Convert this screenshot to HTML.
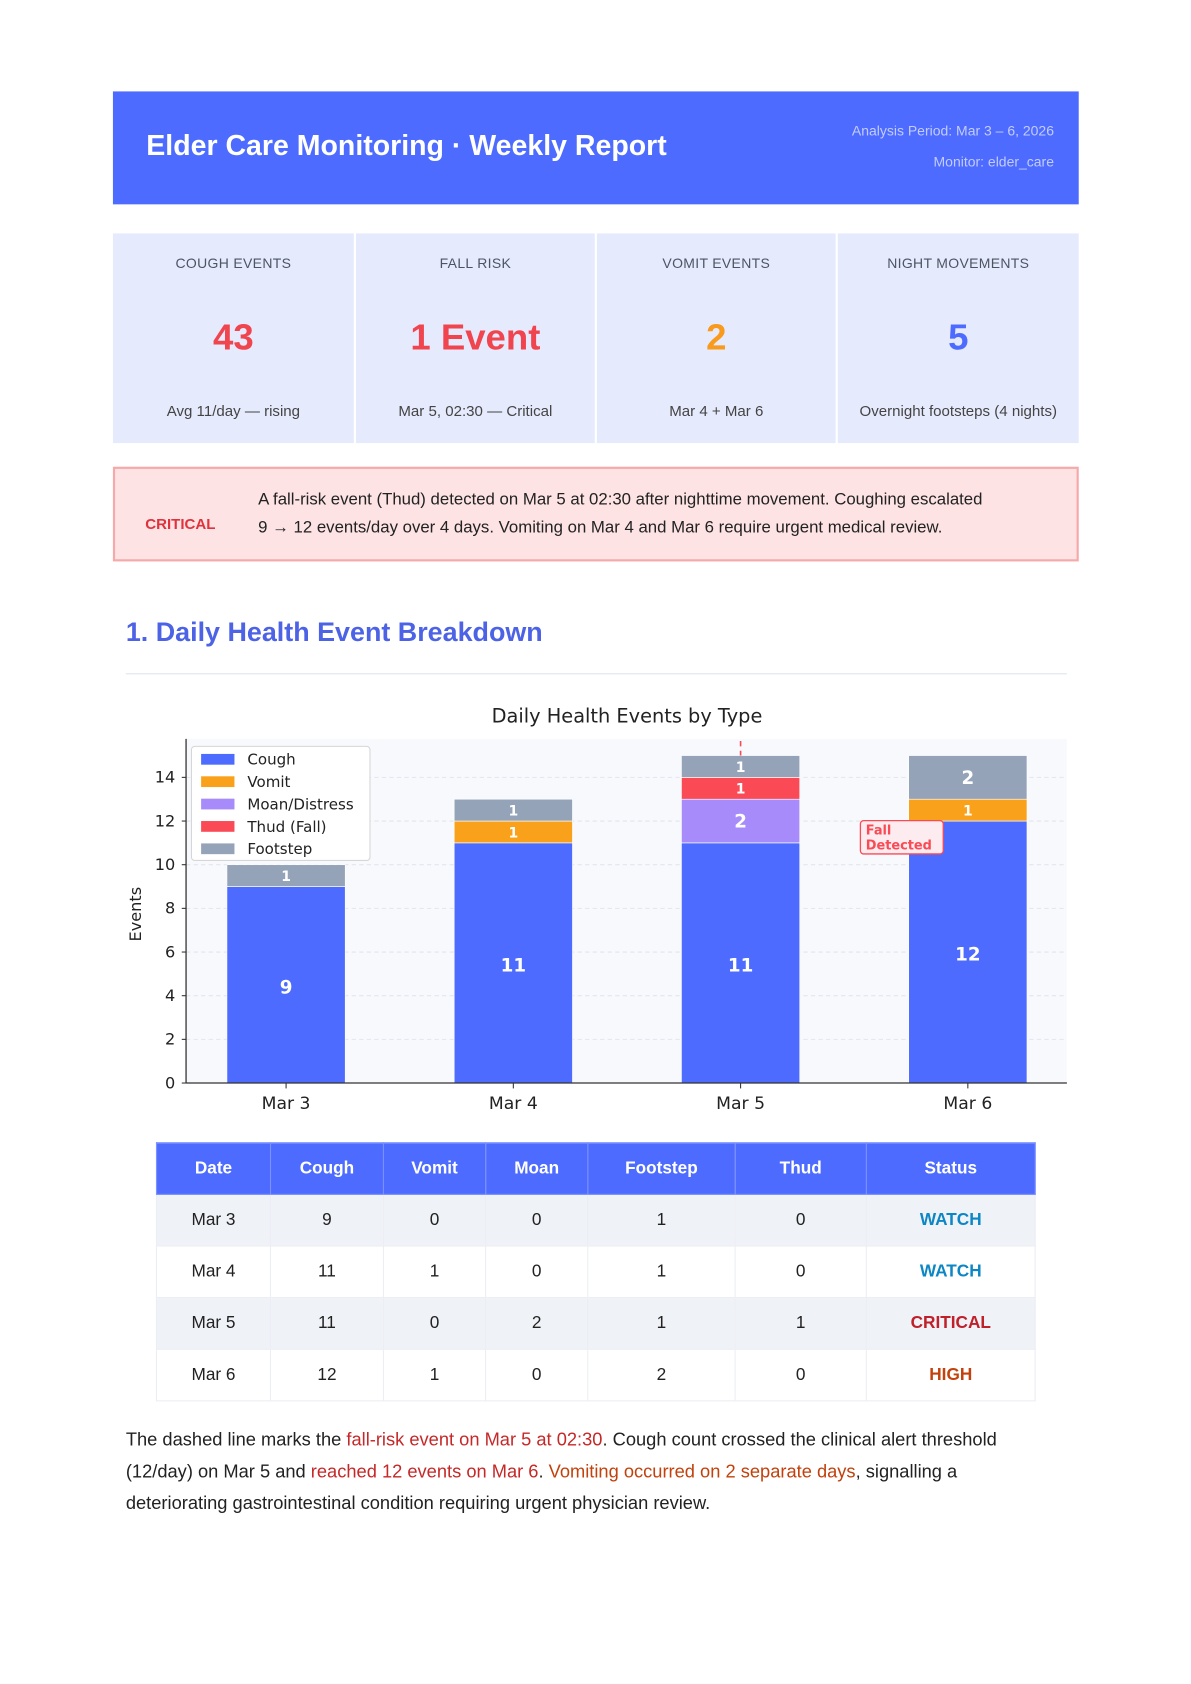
<!DOCTYPE html>
<html><head><meta charset="utf-8"><style>
html,body{margin:0;padding:0;background:#fff;width:1191px;height:1684px;overflow:hidden}
#pg{position:absolute;left:0;top:0;width:1107px;height:1566px;transform:scale(1.0755);transform-origin:0 0;font-family:"Liberation Sans",sans-serif;color:#333}
.a{position:absolute}
.card{position:absolute;top:217px;height:195px;background:#e6eafd;text-align:center}
.card .l{position:absolute;top:20px;left:0;right:0;font-size:13px;color:#4b5563;letter-spacing:.3px}
.card .v{position:absolute;top:78px;left:0;right:0;font-size:34px;font-weight:bold}
.card .s{position:absolute;top:157px;left:0;right:0;font-size:14px;color:#444}
table{border-collapse:collapse;position:absolute;left:145px;top:1062px;width:818px;font-size:16px}
th{background:#4d6bfe;color:#fff;height:47px;border:1px solid #7b90ff;font-weight:bold;padding:0}
td{height:47px;border:1px solid #eceef3;text-align:center;color:#222;padding:0}
tr.g td{background:#eff2f7}
.w{color:#0c86c4;font-weight:bold}.c{color:#c0202a;font-weight:bold}.h{color:#c2410c;font-weight:bold}
</style></head><body><div id="pg">
<div class="a" style="left:105px;top:85px;width:898px;height:105px;background:#4d6bfe">
<div class="a" style="left:31px;top:35px;font-size:26.5px;font-weight:bold;color:#fff">Elder Care Monitoring · Weekly Report</div>
<div class="a" style="right:23px;top:29px;font-size:13px;color:#c3ccff">Analysis Period: Mar 3 – 6, 2026</div>
<div class="a" style="right:23px;top:58px;font-size:13px;color:#c3ccff">Monitor: elder_care</div>
</div>
<div class="card" style="left:105px;width:224px"><div class="l">COUGH EVENTS</div><div class="v" style="color:#f0454f">43</div><div class="s">Avg 11/day — rising</div></div>
<div class="card" style="left:331px;width:222px"><div class="l">FALL RISK</div><div class="v" style="color:#f0454f">1 Event</div><div class="s">Mar 5, 02:30 — Critical</div></div>
<div class="card" style="left:555px;width:222px"><div class="l">VOMIT EVENTS</div><div class="v" style="color:#f89a1c">2</div><div class="s">Mar 4 + Mar 6</div></div>
<div class="card" style="left:779px;width:224px"><div class="l">NIGHT MOVEMENTS</div><div class="v" style="color:#4d6bfe">5</div><div class="s">Overnight footsteps (4 nights)</div></div>
<div class="a" style="left:105px;top:434px;width:894px;height:84px;background:#fde3e4;border:2px solid #f6a9ab">
<div class="a" style="left:28px;top:43px;font-size:14px;font-weight:bold;color:#e0323d">CRITICAL</div>
<div class="a" style="left:133px;top:16px;width:750px;font-size:15.6px;line-height:26px;color:#222;white-space:nowrap">A fall-risk event (Thud) detected on Mar 5 at 02:30 after nighttime movement. Coughing escalated<br>9 → 12 events/day over 4 days. Vomiting on Mar 4 and Mar 6 require urgent medical review.</div>
</div>
<div class="a" style="left:117px;top:574px;font-size:25px;font-weight:bold;color:#4d63e6">1. Daily Health Event Breakdown</div>
<div class="a" style="left:117px;top:626px;width:875px;height:1px;background:#dfe3ee"></div>
<svg class="a" id="chart" style="left:0;top:0" width="1103" height="1060" font-family="DejaVu Sans, sans-serif"></svg>
<table>
<tr><th style="width:105px">Date</th><th style="width:104px">Cough</th><th style="width:94px">Vomit</th><th style="width:94px">Moan</th><th style="width:136px">Footstep</th><th style="width:121px">Thud</th><th>Status</th></tr>
<tr class="g"><td>Mar 3</td><td>9</td><td>0</td><td>0</td><td>1</td><td>0</td><td class="w">WATCH</td></tr>
<tr><td>Mar 4</td><td>11</td><td>1</td><td>0</td><td>1</td><td>0</td><td class="w">WATCH</td></tr>
<tr class="g"><td>Mar 5</td><td>11</td><td>0</td><td>2</td><td>1</td><td>1</td><td class="c">CRITICAL</td></tr>
<tr><td>Mar 6</td><td>12</td><td>1</td><td>0</td><td>2</td><td>0</td><td class="h">HIGH</td></tr>
</table>
<div class="a" style="left:117px;top:1324px;width:862px;font-size:17px;line-height:29.5px;color:#222">The dashed line marks the <span style="color:#c62828">fall-risk event on Mar 5 at 02:30</span>. Cough count crossed the clinical alert threshold (12/day) on Mar 5 and <span style="color:#c62828">reached 12 events on Mar 6</span>. <span style="color:#c2410c">Vomiting occurred on 2 separate days</span>, signalling a deteriorating gastrointestinal condition requiring urgent physician review.</div>
</div>
<script>
const categories=["Mar 3","Mar 4","Mar 5","Mar 6"];
const seriesNames=["Cough","Vomit","Moan/Distress","Thud (Fall)","Footstep"];
const cough=[9,11,11,12];
const vomit=[0,1,0,1];
const moan=[0,0,2,0];
const thud=[0,0,1,0];
const footstep=[1,1,1,2];
const yTicks=[0,2,4,6,8,10,12,14];
const colors=["#4d6bfe","#f9a11b","#a78bfa","#f94a55","#94a3b8"];
const svg=document.getElementById('chart');const NS='http://www.w3.org/2000/svg';
function mk(t,a,txt){const e=document.createElementNS(NS,t);for(const k in a)e.setAttribute(k,a[k]);if(txt!=null)e.textContent=txt;svg.appendChild(e);return e;}
const X0=173,X1=992,Y0=1007,PT=687;
const y=v=>Y0-v*20.3;
const xc=i=>266+i*211.3;
const BW=110;
let e=mk('rect',{x:X0,y:PT,width:X1-X0,height:Y0-PT,fill:'#f8f9fd'});

yTicks.forEach(t=>{
 if(t>0){e=mk('line',{x1:X0,x2:X1,y1:y(t),y2:y(t),stroke:'#e2e5ee','stroke-dasharray':'4,3'});}
 mk('line',{x1:X0-4,x2:X0,y1:y(t),y2:y(t),stroke:'#333'});
 e=mk('text',{x:X0-10,y:y(t)+5,'text-anchor':'end','font-size':15,fill:'#222'},t);
 
});
const series=[cough,vomit,moan,thud,footstep];
categories.forEach((c,i)=>{
 let base=0;
 series.forEach((s,k)=>{
  const v=s[i];if(!v)return;
  e=mk('rect',{x:xc(i)-BW/2,y:y(base+v),width:BW,height:v*20.3,fill:colors[k],stroke:'#fff','stroke-width':0.6});
  
  const big=v>1||k==0;
  e=mk('text',{x:xc(i),y:(k==0?y(base+v/2)+8:y(base+v/2)+(big?6:5)),'text-anchor':'middle','font-size':big?17:13,'font-weight':'bold',fill:'#fff'},v);
  
  base+=v;
 });
 mk('line',{x1:xc(i),x2:xc(i),y1:Y0,y2:Y0+5,stroke:'#333'});
 e=mk('text',{x:xc(i),y:Y0+24,'text-anchor':'middle','font-size':16,fill:'#222'},c);
 
});
mk('line',{x1:X0,x2:X0,y1:PT,y2:Y0,stroke:'#333','stroke-width':1.2});
mk('line',{x1:X0,x2:X1,y1:Y0,y2:Y0,stroke:'#333','stroke-width':1.2});
e=mk('line',{x1:xc(2),x2:xc(2),y1:PT+2,y2:y(15),stroke:'#f94a55','stroke-dasharray':'5,4','stroke-width':1.5});

e=mk('rect',{x:800,y:763,width:77,height:31,rx:3,fill:'#fdecef',stroke:'#f94a55','stroke-width':1.2});

mk('text',{x:805,y:776,'font-size':12,'font-weight':'bold',fill:'#f94a55'},'Fall');
mk('text',{x:805,y:790,'font-size':12,'font-weight':'bold',fill:'#f94a55'},'Detected');
e=mk('text',{x:583,y:672,'text-anchor':'middle','font-size':18,fill:'#222'},'Daily Health Events by Type');

e=mk('text',{x:0,y:0,'text-anchor':'middle','font-size':15,fill:'#222',transform:'translate(131,850) rotate(-90)'},'Events');

e=mk('rect',{x:178,y:694,width:166,height:106,rx:3,fill:'#fff',stroke:'#d6d6d6'});

seriesNames.forEach((n,k)=>{
 const ly=706+k*20.8;
 mk('rect',{x:187,y:ly-5,width:31,height:10,fill:colors[k]});
 e=mk('text',{x:230,y:ly+5,'font-size':14,fill:'#222'},n);
 
});
</script>
</body></html>
